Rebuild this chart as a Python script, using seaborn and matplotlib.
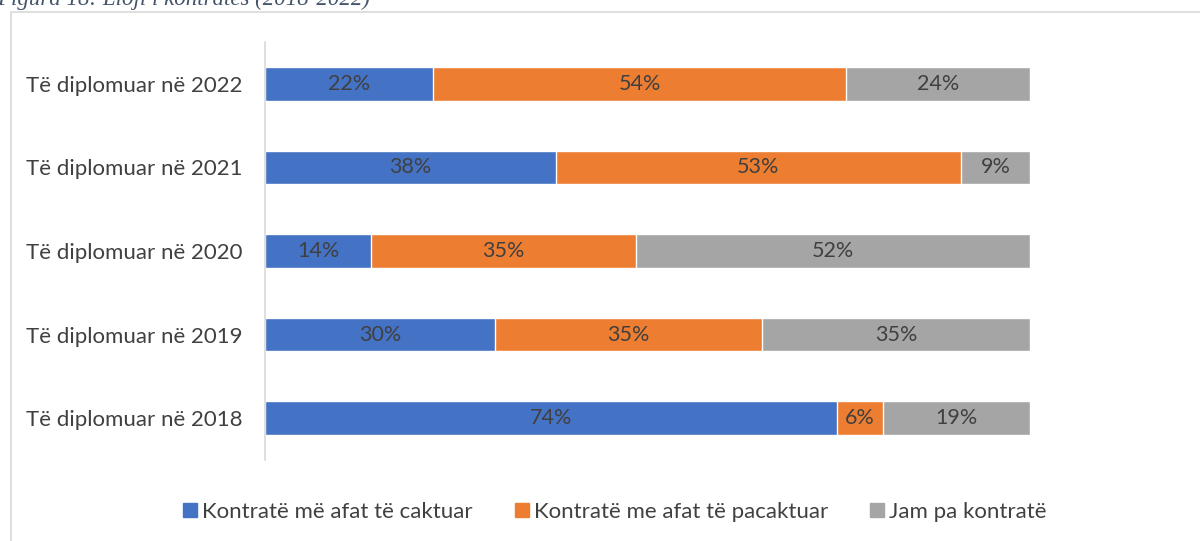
import numpy as np
import matplotlib
matplotlib.use("Agg")
import matplotlib.pyplot as plt
import seaborn as sns
from matplotlib.patches import Rectangle
from matplotlib.lines import Line2D

# data
kategori = ["Të diplomuar në 2022", "Të diplomuar në 2021", "Të diplomuar në 2020",
            "Të diplomuar në 2019", "Të diplomuar në 2018"]
seri = ["Kontratë më afat të caktuar", "Kontratë me afat të pacaktuar", "Jam pa kontratë"]
caktuar = [22, 38, 14, 30, 74]
pacaktuar = [54, 53, 35, 35, 6]
pa_kontrate = [24, 9, 52, 35, 19]
ngjyra = ["#4472c4", "#ed7d31", "#a5a5a5"]

sns.set_theme(style="white")
plt.rcParams["font.family"] = ["Lato", "DejaVu Sans"]

vlera = np.array([caktuar, pacaktuar, pa_kontrate], dtype=float)
pjese = vlera / vlera.sum(axis=0)  # 100% stacked
kumulative = np.cumsum(pjese, axis=0)

fig = plt.figure(figsize=(12, 5.41), dpi=100)
ax = fig.add_axes([265 / 1200, 1 - 460 / 541, (1030 - 265) / 1200, 418 / 541])

# vizato nga totali poshte, shtresat e para siper
for i in range(2, -1, -1):
    sns.barplot(x=kumulative[i], y=kategori, orient="h", color=ngjyra[i],
                width=0.4, saturation=1, ax=ax)

for i in range(3):
    majtas = kumulative[i] - pjese[i]
    for j, kat in enumerate(kategori):
        ax.text(majtas[j] + pjese[i][j] / 2, j, "%d%%" % vlera[i][j],
                ha="center", va="center", fontsize=15.5, color="#404040")

ax.set_xlim(0, 1)
ax.set_ylim(4.5, -0.5)
ax.set_xlabel("")
ax.set_ylabel("")
ax.set_xticks([])
ax.tick_params(axis="y", length=0, pad=16, labelsize=16, labelcolor="#404040")
for s in ["top", "right", "bottom"]:
    ax.spines[s].set_visible(False)
ax.spines["left"].set_color("#d9d9d9")
ax.spines["left"].set_linewidth(1.2)

h2 = [Line2D([], [], marker="s", linestyle="none", markersize=10, color=ngjyra[k]) for k in range(3)]
fig.legend(h2, seri, loc="center", bbox_to_anchor=(615 / 1200, 1 - 512 / 541), ncol=3,
           frameon=False, fontsize=16, handlelength=0.6, handletextpad=0.25,
           columnspacing=1.9, labelcolor="#404040")

# kornize e grafikut
fig.patches.append(Rectangle((11 / 1200, -0.05), 1.1, 1 - 12 / 541 + 0.05,
                             transform=fig.transFigure, fill=False,
                             edgecolor="#d9d9d9", linewidth=1.2))
fig.text(-0.002, 1 - 5 / 541, "Figura 18: Lloji i kontratës (2018-2022)",
         fontsize=16.5, style="italic", family="Liberation Serif", color="#44546a",
         va="baseline", ha="left")

fig.savefig("out.png", dpi=100)
